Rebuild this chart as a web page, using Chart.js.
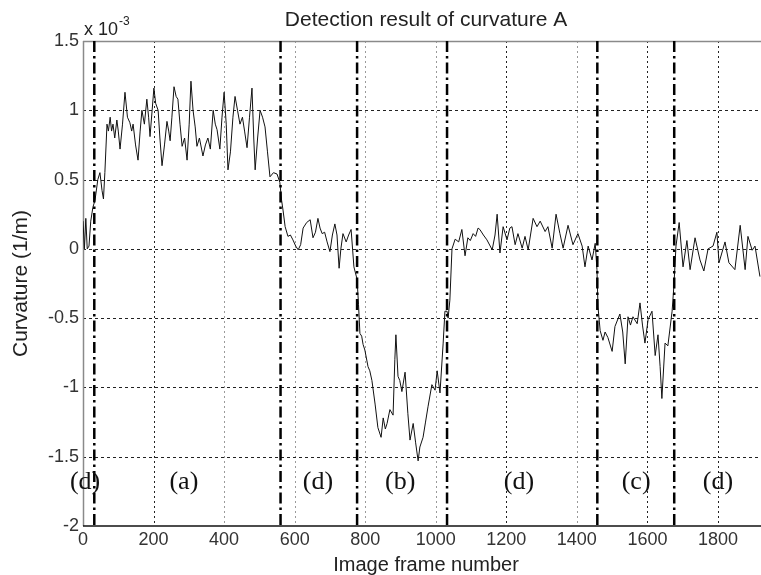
<!DOCTYPE html>
<html><head><meta charset="utf-8">
<style>html,body{margin:0;padding:0;background:#fff;overflow:hidden}canvas{display:block}</style>
<script src="https://cdn.jsdelivr.net/npm/chart.js@4.4.1/dist/chart.umd.min.js"></script>
</head><body>
<canvas id="c" width="761" height="575"></canvas>
<script>
// ---- data (curvature in units of 1e-3 1/m) ----
const frames = [0,4,8,12,17,22,28,34,42,48,54,58,62,68,72,77,81,85,90,96,100,105,112,119,126,133,138,142,149,156,162,167,174,181,186,190,196,201,206,213,218,224,231,238,243,247,252,258,264,269,275,281,288,295,301,306,312,318,323,330,340,347,354,361,369,375,380,388,394,400,406,411,418,425,431,438,445,452,458,465,472,479,484,488,495,502,509,516,523,530,540,550,558,563,567,573,581,588,595,603,610,617,624,634,644,652,659,666,672,678,685,692,700,707,714,720,726,731,737,746,753,760,768,777,781,785,790,794,799,808,813,819,828,836,845,851,857,862,870,879,884,887,893,898,904,913,921,927,936,943,950,955,964,971,978,989,998,1004,1012,1021,1026,1032,1035,1040,1046,1055,1065,1074,1083,1091,1098,1106,1113,1120,1125,1135,1145,1160,1168,1174,1182,1191,1202,1210,1216,1225,1233,1245,1253,1262,1276,1287,1296,1310,1318,1330,1341,1352,1361,1375,1389,1403,1415,1423,1432,1443,1452,1457,1460,1466,1474,1480,1488,1500,1508,1522,1530,1537,1545,1552,1559,1571,1579,1586,1593,1602,1613,1622,1630,1636,1641,1650,1658,1670,1675,1681,1690,1701,1712,1721,1735,1749,1760,1772,1786,1797,1803,1820,1831,1848,1863,1877,1885,1897,1905,1919];
const curvatureE3 = [0.2,0.0,0.22,0.0,0.02,0.2,0.3,0.35,0.5,0.55,0.42,0.36,0.55,0.9,0.85,0.95,0.85,0.9,0.8,0.93,0.85,0.72,0.9,1.13,0.95,0.91,0.85,0.9,0.75,0.64,0.85,1.0,0.9,1.08,0.95,0.81,1.0,1.16,1.05,1.0,0.8,0.6,0.75,0.92,0.85,0.78,0.95,1.17,1.1,1.08,0.9,0.74,0.8,0.64,0.9,1.21,1.0,0.88,0.74,0.8,0.67,0.75,0.8,0.72,1.0,0.9,0.86,0.72,0.95,1.13,0.9,0.57,0.7,0.95,1.1,1.0,0.9,0.95,0.85,0.73,0.95,1.16,0.8,0.57,0.8,1.0,0.95,0.88,0.7,0.52,0.55,0.54,0.48,0.35,0.28,0.16,0.09,0.1,0.065,0.02,-0.007,0.03,0.15,0.19,0.21,0.08,0.12,0.22,0.15,0.11,0.12,0.05,-0.02,0.1,0.18,0.1,-0.14,0.0,0.11,0.05,0.1,0.14,-0.13,-0.22,-0.4,-0.61,-0.63,-0.69,-0.73,-0.85,-0.88,-0.95,-1.12,-1.29,-1.36,-1.22,-1.3,-1.26,-1.16,-1.2,-0.8,-0.62,-0.92,-0.95,-1.03,-0.89,-1.19,-1.38,-1.26,-1.4,-1.53,-1.43,-1.36,-1.25,-1.14,-0.98,-1.02,-0.88,-1.04,-0.68,-0.45,-0.45,-0.5,-0.37,0.0,0.07,0.05,0.14,-0.05,0.08,0.06,0.11,0.09,0.15,0.14,0.1,0.065,-0.007,0.1,0.25,-0.03,0.16,0.065,0.15,0.16,0.03,0.11,0.005,0.09,-0.007,0.22,0.16,0.2,0.125,0.16,0.005,0.25,0.11,0.005,0.17,0.03,0.11,0.02,-0.13,0.02,-0.08,0.04,-0.15,-0.42,-0.59,-0.66,-0.6,-0.64,-0.74,-0.56,-0.47,-0.6,-0.83,-0.49,-0.55,-0.49,-0.54,-0.39,-0.55,-0.68,-0.51,-0.45,-0.77,-0.62,-0.85,-1.08,-0.68,-0.7,-0.45,-0.27,0.02,0.19,-0.13,0.06,-0.15,0.08,-0.08,-0.16,0.0,0.02,0.12,-0.1,0.05,-0.1,-0.15,0.17,-0.15,0.09,-0.01,0.02,-0.2];
const xTicks = [0,200,400,600,800,1000,1200,1400,1600,1800];
const yTicks = [-2,-1.5,-1,-0.5,0,0.5,1,1.5];
const segmentBounds = [32,560,777,1032,1458,1676];
const segmentLabels = ['(d)','(a)','(d)','(b)','(d)','(c)','(d)'];
const segmentLabelFrames = [6,286,666,899,1236,1568,1800];
const segmentLabelLevel = -1.685;
const titleText = 'Detection result of curvature A';
const xTitleText = 'Image frame number';
const yTitleText = 'Curvature (1/m)';
const exponentBase = 'x 10';
const exponentPower = '-3';
const xVisibleMax = 1922;   // axis is cropped at the right edge
const xAxisFullMax = 1945;  // full axis limit (used to centre titles)

// ---- styles ----
const SANS = "'Liberation Sans', Arial, Helvetica, sans-serif";
const SERIF = "'Liberation Serif', 'Times New Roman', serif";
const lightGridTicks = new Set([400,600,800,1000,1400]);

const decor = {
  id: 'decor',
  beforeDatasetsDraw(chart) {
    const {ctx, chartArea: a, scales: {x, y}} = chart;
    ctx.save();
    ctx.lineWidth = 1;
    xTicks.forEach(v => {
      if (v === 0) return;
      const px = Math.round(x.getPixelForValue(v)) + 0.5;
      ctx.strokeStyle = lightGridTicks.has(v) ? '#9a9a9a' : '#222';
      ctx.setLineDash([2, 3]);
      ctx.beginPath(); ctx.moveTo(px, a.top); ctx.lineTo(px, a.bottom); ctx.stroke();
    });
    yTicks.forEach(v => {
      if (v === yTicks[0] || v === yTicks[yTicks.length - 1]) return;
      const py = Math.round(y.getPixelForValue(v)) + 0.5;
      ctx.strokeStyle = '#222';
      ctx.setLineDash([3, 3]);
      ctx.beginPath(); ctx.moveTo(a.left, py); ctx.lineTo(a.right, py); ctx.stroke();
    });
    ctx.setLineDash([]);
    ctx.strokeStyle = '#8a8a8a';
    ctx.lineWidth = 1.5;
    ctx.beginPath(); ctx.moveTo(a.left, a.top + 0.5); ctx.lineTo(a.right, a.top + 0.5); ctx.stroke();
    ctx.beginPath(); ctx.moveTo(a.left + 0.5, a.top); ctx.lineTo(a.left + 0.5, a.bottom); ctx.stroke();
    ctx.strokeStyle = '#111';
    ctx.beginPath(); ctx.moveTo(a.left, a.bottom); ctx.lineTo(a.right, a.bottom); ctx.stroke();
    ctx.restore();
  },
  afterDatasetsDraw(chart) {
    const {ctx, chartArea: a, scales: {x, y}} = chart;
    ctx.save();
    ctx.strokeStyle = '#000';
    ctx.lineWidth = 2.5;
    ctx.setLineDash([11, 4, 2.5, 4]);
    segmentBounds.forEach(v => {
      const px = x.getPixelForValue(v);
      ctx.beginPath(); ctx.moveTo(px, a.top); ctx.lineTo(px, a.bottom); ctx.stroke();
    });
    ctx.setLineDash([]);
    ctx.fillStyle = '#111';
    ctx.font = '26px ' + SERIF;
    ctx.textAlign = 'center';
    ctx.textBaseline = 'middle';
    const ly = y.getPixelForValue(segmentLabelLevel);
    segmentLabels.forEach((t, i) => ctx.fillText(t, x.getPixelForValue(segmentLabelFrames[i]), ly));
    const cx = x.getPixelForValue(xAxisFullMax / 2);
    ctx.fillStyle = '#222';
    ctx.font = '21px ' + SANS;
    ctx.fillText(titleText, cx, a.top - 21);
    ctx.font = '20px ' + SANS;
    ctx.fillText(xTitleText, cx, a.bottom + 39);
    ctx.save();
    ctx.translate(21, (a.top + a.bottom) / 2);
    ctx.rotate(-Math.PI / 2);
    ctx.font = '21px ' + SANS;
    ctx.fillText(yTitleText, 0, 0);
    ctx.restore();
    ctx.textAlign = 'left';
    ctx.font = '18px ' + SANS;
    ctx.fillText(exponentBase, a.left + 1, a.top - 11);
    const w = ctx.measureText(exponentBase).width;
    ctx.font = '12px ' + SANS;
    ctx.fillText(exponentPower, a.left + 1 + w + 1, a.top - 19);
    ctx.restore();
  }
};

new Chart(document.getElementById('c'), {
  type: 'line',
  data: {
    datasets: [{
      data: frames.map((f, i) => ({x: f, y: curvatureE3[i]})),
      borderColor: '#111',
      borderWidth: 1,
      pointRadius: 0,
      tension: 0,
      fill: false
    }]
  },
  options: {
    responsive: false,
    animation: false,
    devicePixelRatio: 1,
    layout: {padding: {top: 41, left: 0, right: 0, bottom: 0}},
    plugins: {legend: {display: false}, tooltip: {enabled: false}, title: {display: false}},
    scales: {
      x: {
        type: 'linear', min: 0, max: xVisibleMax,
        grid: {display: false, drawTicks: false},
        border: {display: false},
        afterBuildTicks: s => { s.ticks = xTicks.map(v => ({value: v})); },
        afterFit: s => { s.height = 49; },
        ticks: {autoSkip: false, maxRotation: 0, padding: 3, color: '#333',
                font: {family: SANS, size: 18}, callback: v => String(v)}
      },
      y: {
        type: 'linear', min: yTicks[0], max: yTicks[yTicks.length - 1],
        grid: {display: false, drawTicks: false},
        border: {display: false},
        afterBuildTicks: s => { s.ticks = yTicks.map(v => ({value: v})); },
        afterFit: s => { s.width = 83; },
        ticks: {autoSkip: false, padding: 4, color: '#333',
                font: {family: SANS, size: 18}, callback: v => String(v)}
      }
    }
  },
  plugins: [decor]
});
</script>
</body></html>
